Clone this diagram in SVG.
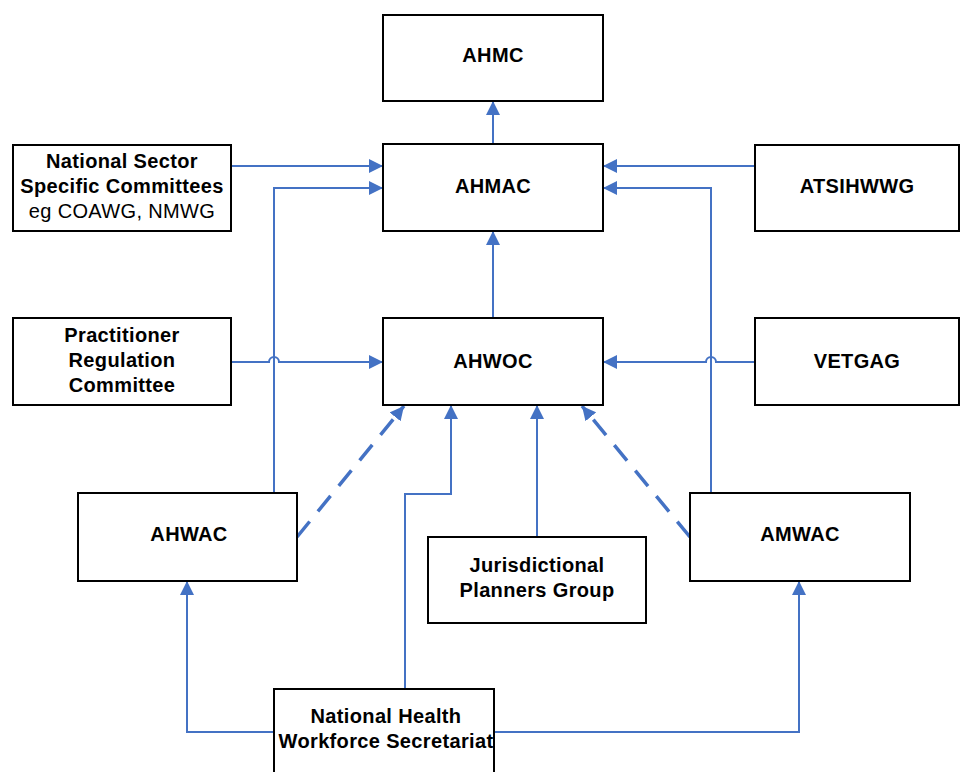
<svg xmlns="http://www.w3.org/2000/svg" width="960" height="772" viewBox="0 0 960 772">
<style>
.box{fill:#fff;stroke:#000;stroke-width:2}
.t{font-family:"Liberation Sans",Arial,sans-serif;font-size:20px;letter-spacing:0.35px;font-weight:bold;text-anchor:middle;fill:#000}
.r{font-weight:normal}
.c{fill:none;stroke:#4472C4;stroke-width:2}
.d{fill:none;stroke:#4472C4;stroke-width:3.5;stroke-dasharray:20 13}
</style>
<defs>
<marker id="ah" markerUnits="userSpaceOnUse" markerWidth="15" markerHeight="15" refX="14" refY="7" orient="auto" viewBox="0 0 15 14">
<path d="M0,0 L14,7 L0,14 z" fill="#4472C4"/>
</marker>
</defs>
<rect width="960" height="772" fill="#fff"/>
<g id="connectors">
<path class="c" d="M493,144 V101" marker-end="url(#ah)"/>
<path class="c" d="M493,318 V231" marker-end="url(#ah)"/>
<path class="c" d="M231,166 H383" marker-end="url(#ah)"/>
<path class="c" d="M274,493 V188 H383" marker-end="url(#ah)"/>
<path class="c" d="M755,166 H603" marker-end="url(#ah)"/>
<path class="c" d="M711,493 V188 H603" marker-end="url(#ah)"/>
<path class="c" d="M231,362 H269 A5,5 0 0 1 279,362 H383" marker-end="url(#ah)"/>
<path class="c" d="M755,362 H716 A5,5 0 0 0 706,362 H603" marker-end="url(#ah)"/>
<path class="d" d="M297,537 L404,406" marker-end="url(#ah)"/>
<path class="d" d="M690,537 L582,406" marker-end="url(#ah)"/>
<path class="c" d="M405,689 V494 H451 V405" marker-end="url(#ah)"/>
<path class="c" d="M537,537 V405" marker-end="url(#ah)"/>
<path class="c" d="M274,732 H187 V581" marker-end="url(#ah)"/>
<path class="c" d="M494,732 H799 V581" marker-end="url(#ah)"/>
</g>
<g id="ahmc"><rect class="box" x="383" y="15" width="220" height="86"/><text class="t" x="493" y="62">AHMC</text></g>
<g id="ahmac"><rect class="box" x="383" y="144" width="220" height="87"/><text class="t" x="493" y="193">AHMAC</text></g>
<g id="nssc"><rect class="box" x="13" y="145" width="218" height="86"/>
<text class="t" x="122" y="168">National Sector</text>
<text class="t" x="122" y="193">Specific Committees</text>
<text class="t r" x="122" y="218">eg COAWG, NMWG</text></g>
<g id="atsihwwg"><rect class="box" x="755" y="145" width="204" height="86"/><text class="t" x="857" y="193">ATSIHWWG</text></g>
<g id="prc"><rect class="box" x="13" y="318" width="218" height="87"/>
<text class="t" x="122" y="342">Practitioner</text>
<text class="t" x="122" y="367">Regulation</text>
<text class="t" x="122" y="392">Committee</text></g>
<g id="ahwoc"><rect class="box" x="383" y="318" width="220" height="87"/><text class="t" x="493" y="368">AHWOC</text></g>
<g id="vetgag"><rect class="box" x="755" y="318" width="204" height="87"/><text class="t" x="857" y="368">VETGAG</text></g>
<g id="ahwac"><rect class="box" x="78" y="493" width="219" height="88"/><text class="t" x="189" y="541">AHWAC</text></g>
<g id="amwac"><rect class="box" x="690" y="493" width="220" height="88"/><text class="t" x="800" y="541">AMWAC</text></g>
<g id="jpg"><rect class="box" x="428" y="537" width="218" height="86"/>
<text class="t" x="537" y="572">Jurisdictional</text>
<text class="t" x="537" y="597">Planners Group</text></g>
<g id="nhws"><rect class="box" x="274" y="689" width="220" height="90"/>
<text class="t" x="386" y="723">National Health</text>
<text class="t" x="386" y="748">Workforce Secretariat</text></g>
</svg>
